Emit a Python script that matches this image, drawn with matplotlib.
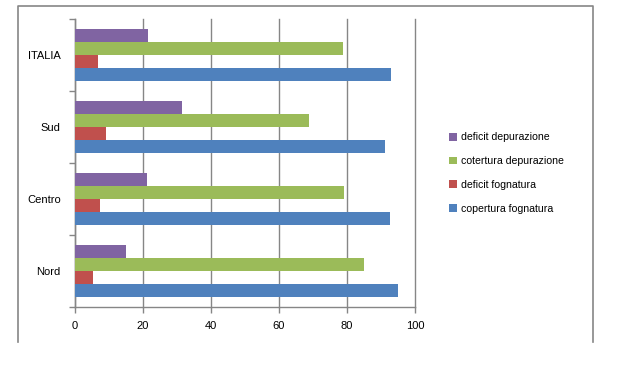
import matplotlib.pyplot as plt
from matplotlib.lines import Line2D
import numpy as np

categories = ["Nord", "Centro", "Sud", "ITALIA"]
series_names = [
    "copertura fognatura",
    "deficit fognatura",
    "cotertura depurazione",
    "deficit depurazione",
]
copertura_fognatura = [94.8, 92.7, 91.0, 93.0]
deficit_fognatura = [5.3, 7.3, 9.1, 6.8]
copertura_depurazione = [84.9, 79.0, 68.8, 78.7]
deficit_depurazione = [15.1, 21.1, 31.4, 21.4]
x_ticks = [0, 20, 40, 60, 80, 100]

colors = ["#4F81BD", "#C0504D", "#9BBB59", "#8064A2"]
grey = "#868686"

plt.rcParams["font.family"] = ["Liberation Sans", "DejaVu Sans"]

fig = plt.figure(figsize=(6.18, 3.65), dpi=100)
ax = fig.add_axes([74.67 / 618, 1 - 307 / 365, (415.3 - 74.67) / 618, (307 - 19) / 365])

values = [copertura_fognatura, deficit_fognatura, copertura_depurazione, deficit_depurazione]
y = np.arange(len(categories))
h = 0.183
offsets = [-1.5 * h, -0.5 * h, 0.5 * h, 1.5 * h]

for vals, name, col, off in zip(values, series_names, colors, offsets):
    ax.barh(y + off, vals, height=h, color=col, label=name, zorder=3)

ax.set_xlim(0, 100)
ax.set_ylim(-0.5, len(categories) - 0.5)
ax.set_xticks(x_ticks)
ax.set_yticks(y)
ax.set_yticklabels(categories)
ax.set_yticks(np.arange(-0.5, len(categories), 1.0), minor=True)
ax.tick_params(axis="y", which="major", length=0, pad=10, labelsize=8)
ax.tick_params(axis="y", which="minor", length=4, color=grey, width=1)
ax.tick_params(axis="x", length=4, color=grey, width=1, labelsize=8, pad=6)

ax.grid(axis="x", color=grey, linewidth=1, zorder=0)
for gl in ax.get_xgridlines():
    gl.set_clip_on(False)
for s in ["top", "right"]:
    ax.spines[s].set_visible(False)
for s in ["left", "bottom"]:
    ax.spines[s].set_color(grey)
    ax.spines[s].set_linewidth(1)

handles, labels = ax.get_legend_handles_labels()
fig.legend(
    handles[::-1],
    labels[::-1],
    loc="center left",
    bbox_to_anchor=(444 / 618, 1 - 173 / 365),
    frameon=False,
    fontsize=7.6,
    handlelength=0.75,
    handleheight=0.75,
    handletextpad=0.35,
    labelspacing=1.3,
    borderpad=0,
)

# outer chart border (bottom edge clipped in original)
fx = lambda px: px / 618
fy = lambda py: 1 - py / 365
fig.add_artist(Line2D([fx(17.5), fx(17.5), fx(593), fx(593)],
                      [fy(342), fy(5.5), fy(5.5), fy(342)],
                      color=grey, linewidth=1.2))

fig.savefig("out.png", dpi=100)
